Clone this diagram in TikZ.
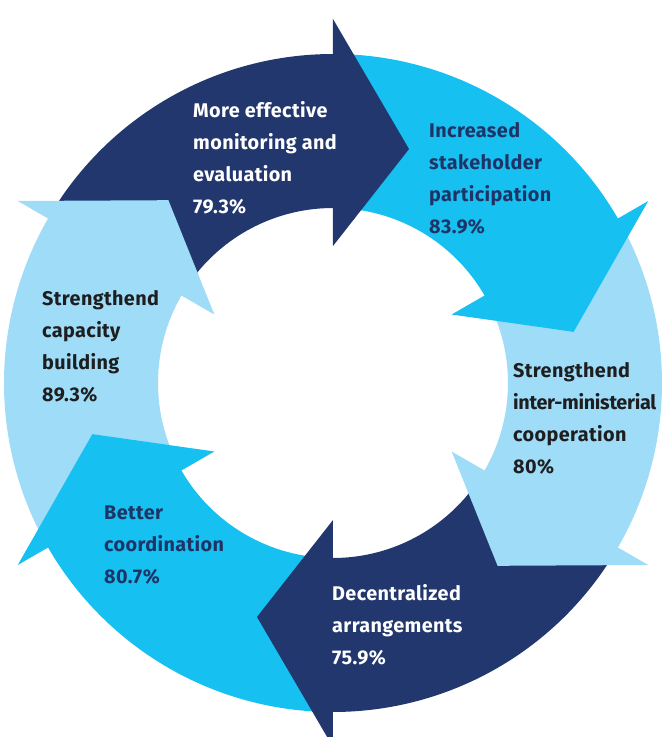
\documentclass[tikz,border=0pt]{standalone}
\usepackage{fontspec}
\setmainfont{Fira Sans}[LetterSpace=2]
\definecolor{navyb}{RGB}{33,55,110}
\definecolor{cyanb}{RGB}{22,192,240}
\definecolor{lightb}{RGB}{158,220,247}
\definecolor{navytext}{RGB}{30,52,102}
\definecolor{darktext}{RGB}{30,30,32}
\begin{document}
\begin{tikzpicture}[x=1pt,y=1pt,
  lbl/.style={anchor=north west, inner sep=0pt, align=left,
    font=\bfseries\fontsize{19.8}{32}\selectfont}]
\useasboundingbox (-333,-354) rectangle (329,383);
\clip (-333,-354) rectangle (329,383);
% bands
\foreach \t/\c in {90/navyb,30/cyanb,-30/lightb,-90/navyb,-150/cyanb,150/lightb}{
  \pgfmathsetmacro{\ta}{\t+58}
  \pgfmathsetmacro{\tb}{\t-2}
  \fill[\c] (\ta:329) arc[start angle=\ta, end angle=\tb, radius=329]
    -- (\tb:175) arc[start angle=\tb, end angle=\ta, radius=175] -- cycle;
}
% heads
\foreach \t/\c in {90/navyb,30/cyanb,-30/lightb,-90/navyb,-150/cyanb,150/lightb}{
  \pgfmathsetmacro{\tc}{\t-18}
  \fill[\c] (\t:364) -- (\tc:246) -- (\t:137) -- cycle;
}
\node[lbl, text=white] (mon) at (-140,282) {More effective\\monitoring and\\evaluation\\79.3\%};
\node[lbl, text=navytext] (stake) at (96,261) {Increased\\stakeholder\\participation\\83.9\%};
\node[lbl, text=darktext] (inter) at (180,21) {Strengthend\\{\addfontfeature{LetterSpace=-1.5}inter-ministerial}\\cooperation\\80\%};
\node[lbl, text=darktext] (cap) at (-291,93) {Strengthend\\capacity\\building\\89.3\%};
\node[lbl, text=navytext] (coord) at (-229,-123) {Better\\coordination\\80.7\%};
\node[lbl, text=white] (dec) at (-1,-201) {Decentralized\\arrangements\\75.9\%};
\end{tikzpicture}
\end{document}
